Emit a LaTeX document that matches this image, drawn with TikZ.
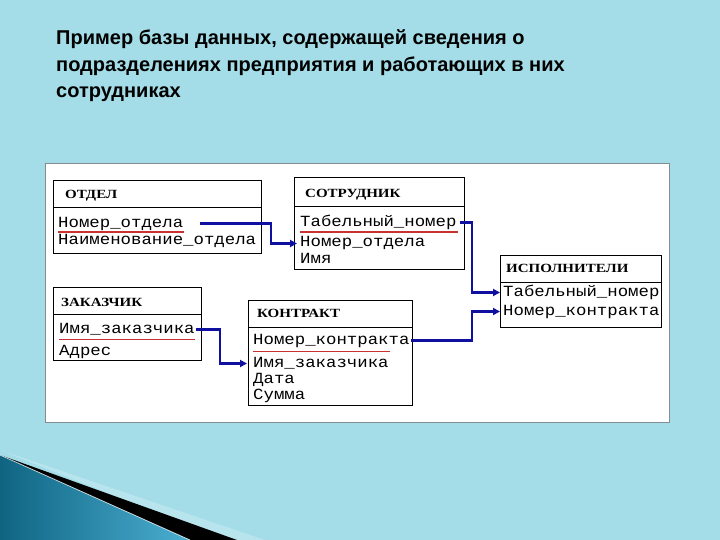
\documentclass[tikz,border=0pt]{standalone}
\usepackage{fontspec}
\setmainfont{Liberation Serif}
\newfontfamily\titlefont{Liberation Sans}
\newfontfamily\fieldfont{Liberation Mono}[FakeStretch=1.12]
\newfontfamily\headfont{Liberation Serif}[FakeStretch=1.2]
\usetikzlibrary{arrows.meta}
\definecolor{bg}{RGB}{164,221,232}
\definecolor{connblue}{RGB}{16,16,160}
\definecolor{keyred}{RGB}{200,50,50}
\definecolor{panelborder}{RGB}{130,140,145}
\definecolor{tealdark}{RGB}{15,100,130}
\definecolor{teallight}{RGB}{75,175,210}
\tikzset{
 field/.style={anchor=base west, inner sep=0pt, font=\fieldfont\fontsize{15.5}{17}\selectfont, text height=10pt, text depth=3pt},
 head/.style={anchor=base west, inner sep=0pt, font=\headfont\bfseries\fontsize{12.5}{14}\selectfont},
 tbl/.style={draw=black, line width=1pt},
 keyline/.style={draw=keyred, line width=1pt},
 link/.style={draw=connblue, line width=2.4pt, -{Triangle[length=7pt,width=7pt]}},
 titletext/.style={anchor=base west, inner sep=0pt, font=\titlefont\bfseries\fontsize{20}{23}\selectfont}
}
\begin{document}
\begin{tikzpicture}[x=1pt,y=-1pt]
\useasboundingbox (0,0) rectangle (720,540);
\fill[bg] (0,0) rectangle (720,540);
% bottom-left decoration
\fill[white,opacity=0.22] (0,450) -- (265,540) -- (225,540) -- cycle;
\fill[black] (0,455) -- (237,540) -- (190,540) -- cycle;
\shade[left color=tealdark, right color=teallight] (0,455) -- (190,540) -- (0,540) -- cycle;
\draw[white,opacity=0.7,line width=0.8pt] (0,455) -- (190,540);
% title
\node[titletext] (t1) at (56,45) {Пример базы данных, содержащей сведения о};
\node[titletext] (t2) at (56,72) {подразделениях предприятия и работающих в них};
\node[titletext] (t3) at (56,98) {сотрудниках};
% panel
\draw[panelborder, fill=white, line width=0.8pt] (45,163) rectangle (669,422);
% ОТДЕЛ
\draw[tbl] (53,181) rectangle (261,253);
\draw[tbl] (53,208) -- (261,208);
\node[head] (hO) at (65,199) {ОТДЕЛ};
\node[field] (o1) at (58,227) {Номер\_отдела};
\node[field] (o2) at (58,244) {Наименование\_отдела};
\draw[keyline] (58,232) -- (184,232);
% СОТРУДНИК
\draw[tbl] (294,178) rectangle (464,269);
\draw[tbl] (294,207) -- (464,207);
\node[head] (hS) at (305,197) {СОТРУДНИК};
\node[field] (s1) at (300,226) {Табельный\_номер};
\node[field] (s2) at (300,247) {Номер\_отдела};
\node[field] (s3) at (300,263) {Имя};
\draw[keyline] (300,232) -- (458,232);
% ИСПОЛНИТЕЛИ
\draw[tbl] (500,255) rectangle (661,327);
\draw[tbl] (500,282) -- (661,282);
\node[head] (hI) at (506,272) {ИСПОЛНИТЕЛИ};
\node[field] (i1) at (503,296) {Табельный\_номер};
\node[field] (i2) at (503,315) {Номер\_контракта};
% ЗАКАЗЧИК
\draw[tbl] (53,287) rectangle (201,360);
\draw[tbl] (53,314) -- (201,314);
\node[head] (hZ) at (61,306) {ЗАКАЗЧИК};
\node[field] (z1) at (59,333) {Имя\_заказчика};
\node[field] (z2) at (59,355) {Адрес};
\draw[keyline] (59,339.5) -- (195,339.5);
% КОНТРАКТ
\draw[tbl] (248,300) rectangle (412,405);
\draw[tbl] (248,327) -- (412,327);
\node[head] (hK) at (257,317) {КОНТРАКТ};
\node[field] (k1) at (253,344) {Номер\_контракта};
\node[field] (k2) at (253,367) {Имя\_заказчика};
\node[field] (k3) at (253,383) {Дата};
\node[field] (k4) at (253,399) {Сумма};
\draw[keyline] (253,351) -- (390,351);
% connectors
\draw[link] ([xshift=17pt]o1.east) -| ([xshift=-29pt]s2.west) -- ([xshift=-3pt]s2.west);
\draw[link] ([xshift=3pt]s1.east) -| ([xshift=-31pt]i1.west) -- ([xshift=-3pt]i1.west);
\draw[link] ([xshift=1pt]k1.east) -| ([xshift=-31pt]i2.west) -- ([xshift=-3pt]i2.west);
\draw[link] ([xshift=1pt]z1.east) -| ([xshift=-33pt]k2.west) -- ([xshift=-6pt]k2.west);
\end{tikzpicture}
\end{document}
